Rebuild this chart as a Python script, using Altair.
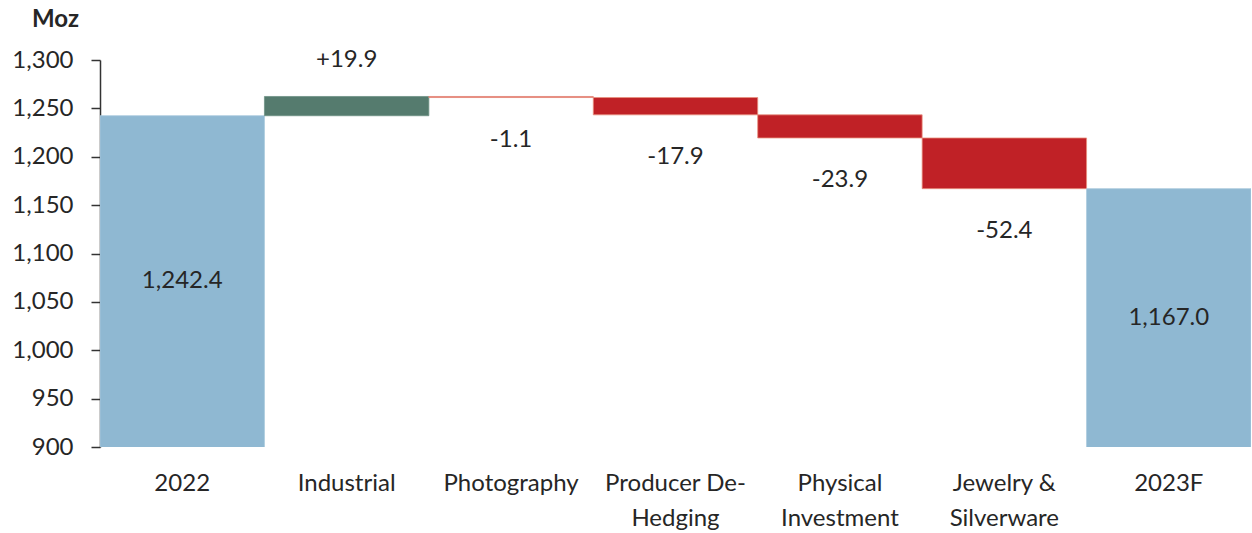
import altair as alt
import pandas as pd

# Silver demand bridge, 2022 -> 2023F (million ounces)
categories = ["2022", "Industrial", "Photography", "Producer De-\nHedging",
              "Physical\nInvestment", "Jewelry &\nSilverware", "2023F"]
kinds = ["total", "change", "change", "change", "change", "change", "total"]
values = [1242.4, 19.9, -1.1, -17.9, -23.9, -52.4, 1167.0]
y_ticks = [900, 950, 1000, 1050, 1100, 1150, 1200, 1250, 1300]
unit_label = "Moz"

AXIS_FLOOR = 900
FONT = "Lato"
TEXT = "#262626"
FS = 24

rows = []
running = 0.0
for cat, kind, val in zip(categories, kinds, values):
    if kind == "total":
        start, end = 0.0, val
        running = val
        color = "total"
        label = f"{val:,.1f}"
        mid = (AXIS_FLOOR + val) / 2
    else:
        start, end = running, running + val
        running = end
        color = "up" if val >= 0 else "down"
        label = f"{val:+.1f}"
        mid = None
    rows.append({"cat": cat, "kind": kind, "start": start, "end": end,
                 "color": color, "label": label, "mid": mid,
                 "low": min(start, end), "high": max(start, end)})
df = pd.DataFrame(rows)

x_enc = alt.X("cat:N", sort=categories, title=None,
              scale=alt.Scale(paddingInner=0, paddingOuter=0),
              axis=alt.Axis(labelExpr="split(datum.label, '\\n')", labelAngle=0,
                            domain=False, ticks=False, labelPadding=24,
                            labelFontSize=FS, labelFont=FONT, labelColor=TEXT,
                            labelLineHeight=35, labelBaseline="top"))
y_scale = alt.Scale(domain=[900, 1300], zero=False, nice=False)

bars = alt.Chart(df).mark_bar(clip=True).encode(
    x=x_enc,
    y=alt.Y("start:Q", scale=y_scale, title=None,
            axis=alt.Axis(values=y_ticks, format=",.0f", tickSize=9, labelPadding=18,
                          grid=False, domainColor="#333333", tickColor="#333333",
                          labelFontSize=FS, labelFont=FONT, labelColor=TEXT,
                          domainWidth=1.5, tickWidth=1.5)),
    y2="end:Q",
    color=alt.Color("color:N", legend=None,
                    scale=alt.Scale(domain=["total", "up", "down"],
                                    range=["#8FB8D2", "#557B6E", "#C02126"])),
    stroke=alt.Stroke("color:N", legend=None,
                      scale=alt.Scale(domain=["total", "up", "down"],
                                      range=["#A9C9DD", "#6E9285", "#E8907F"])),
    strokeWidth=alt.value(0.8),
)

total_labels = alt.Chart(df).transform_filter("datum.kind == 'total'").mark_text(
    font=FONT, fontSize=FS, color=TEXT, baseline="middle"
).encode(x=alt.X("cat:N", sort=categories), y=alt.Y("mid:Q", scale=y_scale), text="label:N")

up_labels = alt.Chart(df).transform_filter(
    "datum.kind == 'change' && datum.end >= datum.start"
).mark_text(font=FONT, fontSize=FS, color=TEXT, baseline="middle", dy=-36).encode(
    x=alt.X("cat:N", sort=categories), y=alt.Y("high:Q", scale=y_scale), text="label:N")

down_labels = alt.Chart(df).transform_filter(
    "datum.kind == 'change' && datum.end < datum.start"
).mark_text(font=FONT, fontSize=FS, color=TEXT, baseline="middle", dy=42).encode(
    x=alt.X("cat:N", sort=categories), y=alt.Y("low:Q", scale=y_scale), text="label:N")

# Unit caption above the value axis
unit = alt.Chart(pd.DataFrame({"t": [unit_label]})).mark_text(
    font=FONT, fontSize=24, fontWeight="bold", color=TEXT,
    align="left", baseline="alphabetic", clip=False
).encode(x=alt.value(-68), y=alt.value(-33), text="t:N")

chart = alt.layer(bars, total_labels, up_labels, down_labels, unit).properties(
    width=1151, height=387,
    autosize=alt.AutoSizeParams(type="none"),
    padding={"left": 100, "top": 60, "right": 1, "bottom": 86},
    background="white",
).configure_view(stroke=None)

chart.save("out.html", embed_options={"renderer": "svg", "actions": False})
